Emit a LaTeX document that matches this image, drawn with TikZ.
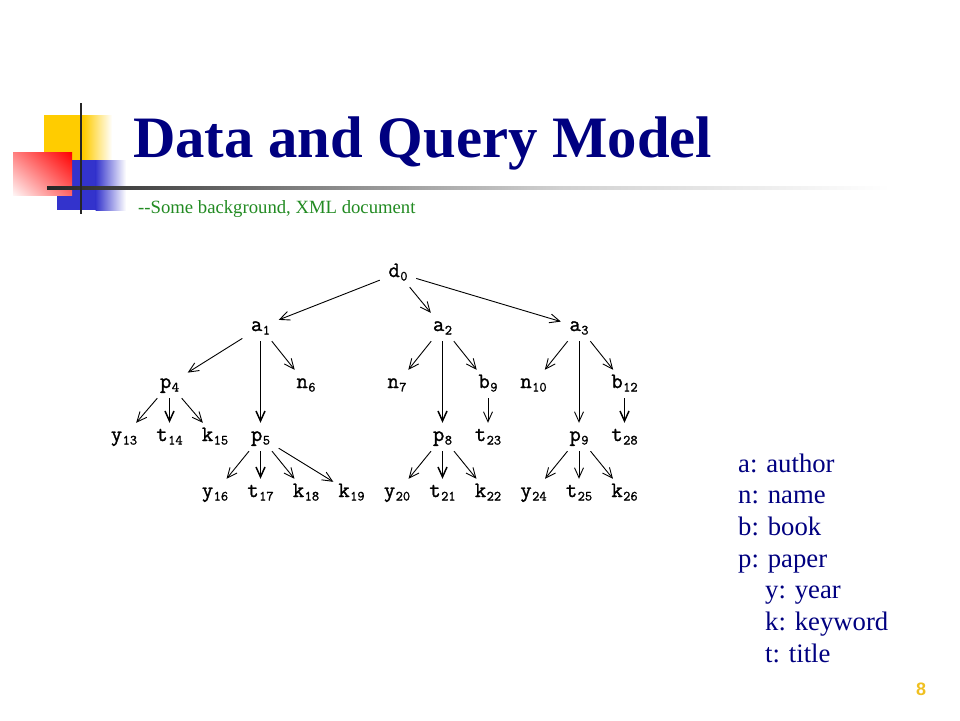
\documentclass[tikz,border=0pt]{standalone}
\usepackage{fontspec}
\setmainfont{Liberation Serif}
\newfontfamily\arialfont{Liberation Sans}
\newfontfamily\treefont[FakeBold=1.3]{Latin Modern Mono}
\usetikzlibrary{arrows.meta,shadings}
\definecolor{navy}{RGB}{0,0,128}
\definecolor{subgreen}{RGB}{34,139,34}
\definecolor{logoyellow}{RGB}{255,204,0}
\definecolor{logoblue}{RGB}{51,51,204}
\definecolor{logored}{RGB}{255,0,0}
\definecolor{pagegold}{RGB}{240,192,32}
\newcommand\lbl[2]{#1\kern0.5pt\raisebox{-3.5pt}{\fontsize{14}{14}\selectfont #2}}
\begin{document}
\begin{tikzpicture}[x=1pt,y=-1pt,
  tn/.style={font=\treefont\fontsize{22}{22}\selectfont, minimum width=36pt, minimum height=28pt,
             inner sep=0pt, text height=12pt, text depth=4pt},
  edge/.style={-{Straight Barb[length=10pt,width=9pt]}, line width=0.9pt},
  thick edge/.style={edge, line width=1.5pt},
  legend/.style={anchor=base west, inner sep=0pt, text=navy, font=\fontsize{26.7}{30}\selectfont}
]
\useasboundingbox (0,0) rectangle (960,720);
\fill[white] (0,0) rectangle (960,720);

% logo
\fill[logoyellow] (44,115) rectangle (84,160);
\shade[left color=logoyellow,right color=white] (83.5,115) rectangle (112,160);
\fill[logoblue] (57,160) rectangle (96,210);
\shade[left color=logoblue,right color=white] (95.5,160) rectangle (126,210);
\shade[upper left=logored!50!white, upper right=logored, lower left=logored!4!white, lower right=logored!60!white] (13,152) rectangle (72,195);
\shade[left color=black!85,right color=black!50] (47,186.5) rectangle (300.5,189.5);
\shade[left color=black!50,right color=black!18] (300,186.5) rectangle (560.5,189.5);
\shade[left color=black!18,right color=white] (560,186.5) rectangle (890,189.5);
\draw[line width=2.5pt, black!85] (81,103) -- (81,214);

% title
\node[anchor=base west, inner sep=0pt, text=navy, font=\bfseries\fontsize{58.7}{60}\selectfont] (title) at (133,157) {Data and Query Model};
\node[anchor=base west, inner sep=0pt, text=subgreen, font=\fontsize{18.7}{20}\selectfont] (subtitle) at (138,213) {-{}-Some background, XML document};

% tree
\node[tn] (d0) at (398,273) {\lbl{d}{0}};
\node[tn] (a1) at (260.5,327) {\lbl{a}{1}};
\node[tn] (a2) at (442.5,327) {\lbl{a}{2}};
\node[tn] (a3) at (579,327) {\lbl{a}{3}};
\node[tn] (p4) at (169.5,384) {\lbl{p}{4}};
\node[tn] (n6) at (306,384) {\lbl{n}{6}};
\node[tn] (n7) at (397,384) {\lbl{n}{7}};
\node[tn] (b9) at (488,384) {\lbl{b}{9}};
\node[tn] (n10) at (533.5,384) {\lbl{n}{10}};
\node[tn] (b12) at (624.5,384) {\lbl{b}{12}};
\node[tn] (y13) at (124,437) {\lbl{y}{13}};
\node[tn] (t14) at (169.5,437) {\lbl{t}{14}};
\node[tn] (k15) at (215,437) {\lbl{k}{15}};
\node[tn] (p5) at (260.5,437) {\lbl{p}{5}};
\node[tn] (p8) at (442.5,437) {\lbl{p}{8}};
\node[tn] (t23) at (488,437) {\lbl{t}{23}};
\node[tn] (p9) at (579,437) {\lbl{p}{9}};
\node[tn] (t28) at (624.5,437) {\lbl{t}{28}};
\node[tn] (y16) at (215,493) {\lbl{y}{16}};
\node[tn] (t17) at (260.5,493) {\lbl{t}{17}};
\node[tn] (k18) at (306,493) {\lbl{k}{18}};
\node[tn] (k19) at (351.5,493) {\lbl{k}{19}};
\node[tn] (y20) at (397,493) {\lbl{y}{20}};
\node[tn] (t21) at (442.5,493) {\lbl{t}{21}};
\node[tn] (k22) at (488,493) {\lbl{k}{22}};
\node[tn] (y24) at (533.5,493) {\lbl{y}{24}};
\node[tn] (t25) at (579,493) {\lbl{t}{25}};
\node[tn] (k26) at (624.5,493) {\lbl{k}{26}};

\draw[edge] (d0) -- (a1);
\draw[edge] (d0) -- (a2);
\draw[edge] (d0) -- (a3);
\draw[edge] (a1) -- (p4);
\draw[thick edge] (a1) -- (p5);
\draw[edge] (a1) -- (n6);
\draw[edge] (a2) -- (n7);
\draw[thick edge] (a2) -- (p8);
\draw[edge] (a2) -- (b9);
\draw[edge] (a3) -- (n10);
\draw[edge] (a3) -- (p9);
\draw[edge] (a3) -- (b12);
\draw[edge] (p4) -- (y13);
\draw[thick edge] (p4) -- (t14);
\draw[edge] (p4) -- (k15);
\draw[edge] (p5) -- (y16);
\draw[thick edge] (p5) -- (t17);
\draw[edge] (p5) -- (k18);
\draw[edge] (p5) -- (k19);
\draw[edge] (p8) -- (y20);
\draw[thick edge] (p8) -- (t21);
\draw[edge] (p8) -- (k22);
\draw[edge] (b9) -- (t23);
\draw[edge] (p9) -- (y24);
\draw[edge] (p9) -- (t25);
\draw[edge] (p9) -- (k26);
\draw[thick edge] (b12) -- (t28);

% legend
\node[legend] (la) at (738,472) {a: author};
\node[legend] (ln) at (738,503.5) {n: name};
\node[legend] (lb) at (738,535) {b: book};
\node[legend] (lp) at (738,567) {p: paper};
\node[legend] (ly) at (765,598.5) {y: year};
\node[legend] (lk) at (765,630) {k: keyword};
\node[legend] (lt) at (765,662) {t: title};

% page number
\node[anchor=base west, inner sep=0pt, text=pagegold, font=\arialfont\bfseries\fontsize{18}{18}\selectfont] (pg) at (916,695) {8};
\end{tikzpicture}
\end{document}
